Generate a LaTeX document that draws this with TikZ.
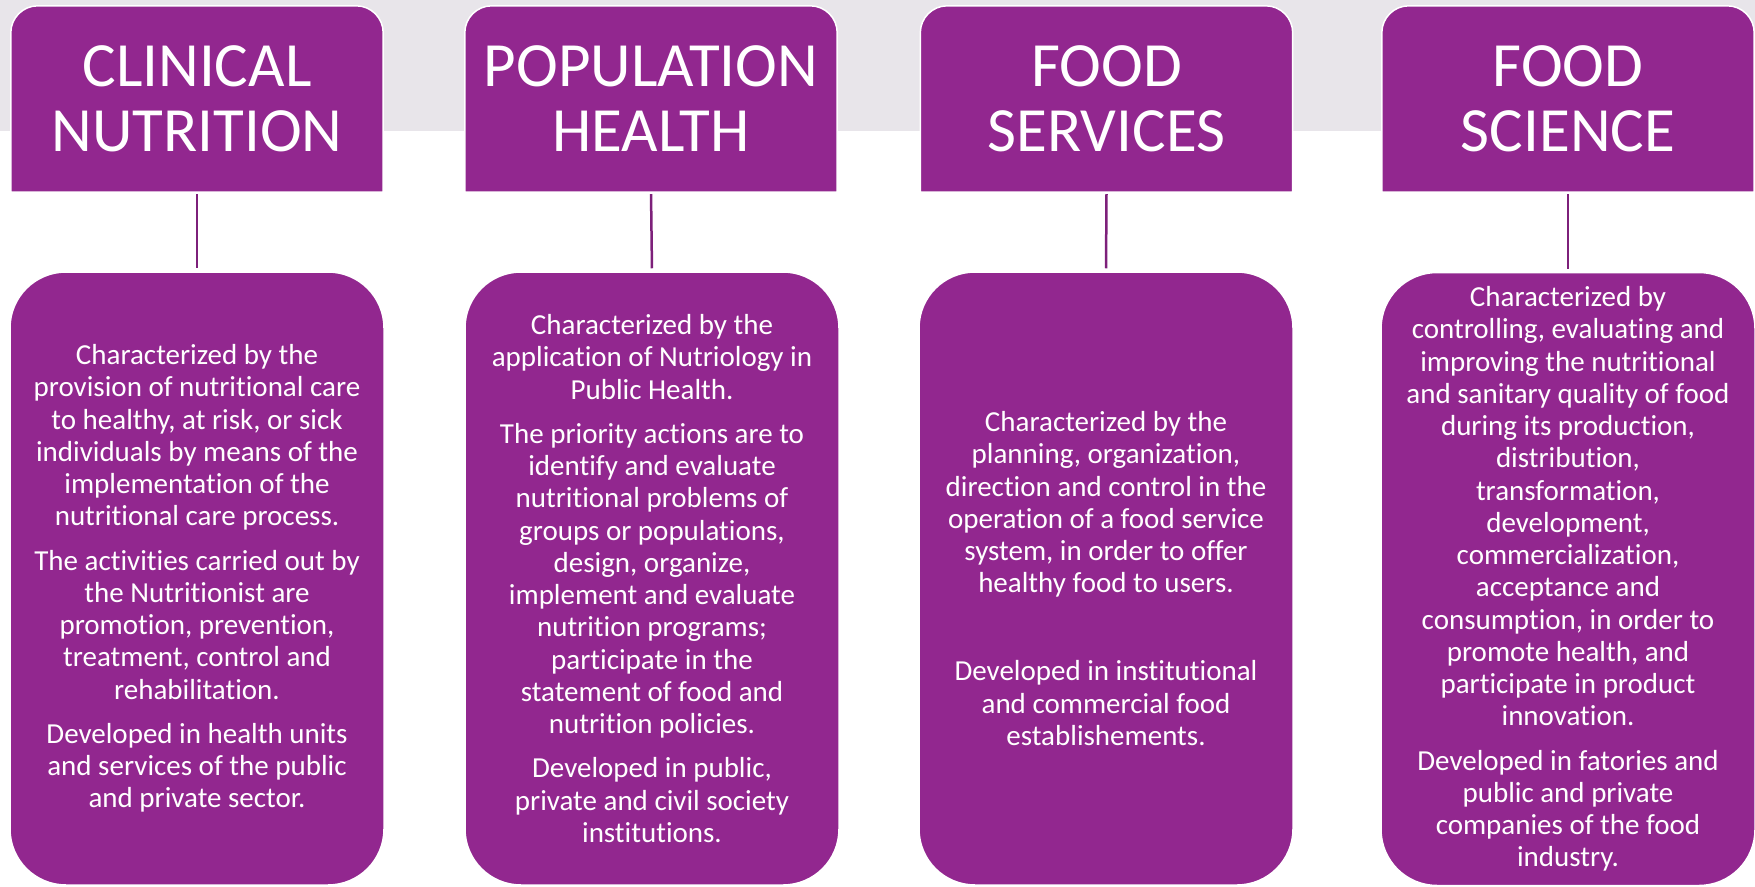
\documentclass[tikz,border=0pt]{standalone}
\usepackage{fontspec}
\setmainfont{Carlito}[Ligatures=NoCommon]
\usetikzlibrary{backgrounds}
\definecolor{plum}{RGB}{146,39,143}
\definecolor{plumline}{RGB}{125,32,122}
\definecolor{band}{RGB}{232,229,234}
% header panel: square bottom, rounded top corners, drawn behind a text node
\newcommand\hdrpath[1]{%
  \path[headbox] (#1.south west) -- ([yshift=-27pt]#1.north west)
    arc[start angle=180, end angle=90, radius=27pt]
    -- ([xshift=-27pt]#1.north east)
    arc[start angle=90, end angle=0, radius=27pt]
    -- (#1.south east) -- cycle;}
\begin{document}
\begin{tikzpicture}[x=1pt,y=1pt,
  headtext/.style={text=white, align=center, inner sep=0pt,
    minimum width=372pt, minimum height=186pt,
    font=\fontsize{63}{65}\selectfont},
  headbox/.style={fill=plum, draw=white, line width=1.5pt},
  bodybox/.style={fill=plum, draw=white, line width=1.5pt,
    rounded corners=56pt, minimum width=374pt, minimum height=613pt,
    inner sep=0pt, text=white, align=center,
    font=\fontsize{29}{32.25}\selectfont},
  link/.style={draw=plumline, line width=2.5pt, shorten <=2pt, shorten >=3pt}]

\useasboundingbox (0,0) rectangle (1755,-886);

% column titles
\node[headtext] (h1) at (197,-99)    {CLINICAL\\NUTRITION};
\node[headtext] (h2) at (651,-99)    {POPULATION\\HEALTH};
\node[headtext] (h3) at (1106.5,-99) {FOOD\\SERVICES};
\node[headtext] (h4) at (1568,-99)   {FOOD\\SCIENCE};

% column descriptions
\node[bodybox] (b1) at (197,-578.5) {%
  Characterized by the\\
  provision of nutritional care\\
  to healthy, at risk, or sick\\
  individuals by means of the\\
  implementation of the\\
  nutritional care process.\\[12pt]
  The activities carried out by\\
  the Nutritionist are\\
  promotion, prevention,\\
  treatment, control and\\
  rehabilitation.\\[12pt]
  Developed in health units\\
  and services of the public\\
  and private sector.};

\node[bodybox] (b2) at (652,-578.5) {%
  Characterized by the\\
  application of Nutriology in\\
  Public Health.\\[12pt]
  The priority actions are to\\
  identify and evaluate\\
  nutritional problems of\\
  groups or populations,\\
  design, organize,\\
  implement and evaluate\\
  nutrition programs;\\
  participate in the\\
  statement of food and\\
  nutrition policies.\\[12pt]
  Developed in public,\\
  private and civil society\\
  institutions.};

\node[bodybox] (b3) at (1106,-578.5) {%
  Characterized by the\\
  planning, organization,\\
  direction and control in the\\
  operation of a food service\\
  system, in order to offer\\
  healthy food to users.\\[55.75pt]
  Developed in institutional\\
  and commercial food\\
  establishements.};

\node[bodybox] (b4) at (1568,-579) {%
  Characterized by\\
  controlling, evaluating and\\
  improving the nutritional\\
  and sanitary quality of food\\
  during its production,\\
  distribution,\\
  transformation,\\
  development,\\
  commercialization,\\
  acceptance and\\
  consumption, in order to\\
  promote health, and\\
  participate in product\\
  innovation.\\[12pt]
  Developed in fatories and\\
  public and private\\
  companies of the food\\
  industry.};

% connectors from titles to descriptions
\draw[link] (h1.south) -- (b1.north);
\draw[link] (h2.south) -- (b2.north);
\draw[link] (h3.south) -- (b3.north);
\draw[link] (h4.south) -- (b4.north);

\begin{scope}[on background layer]
  \fill[band] (0,0) rectangle (1755,-131);
  \hdrpath{h1}
  \hdrpath{h2}
  \hdrpath{h3}
  \hdrpath{h4}
\end{scope}
\end{tikzpicture}
\end{document}
